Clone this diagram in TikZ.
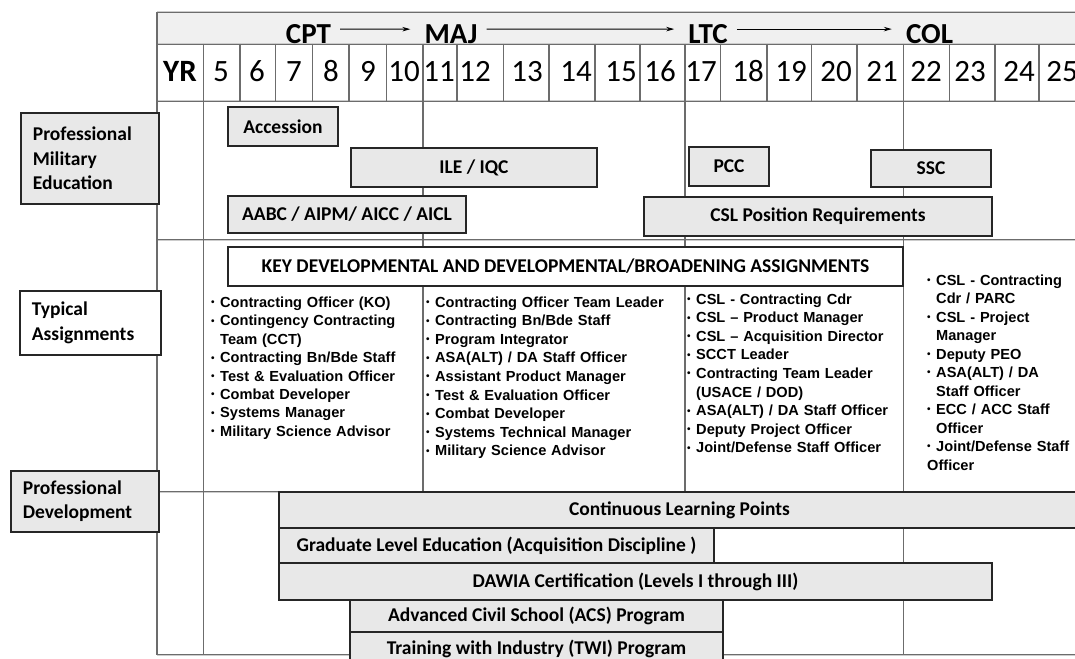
\documentclass[tikz,border=0pt]{standalone}
\usepackage{fontspec}
\setmainfont{Carlito}
\newfontfamily\arialfont{Liberation Sans}
\usetikzlibrary{arrows.meta}
\newcommand{\tabul}{\makebox[9pt][l]{\raisebox{1.6pt}{\fontsize{10}{10}\selectfont\textbullet}}}
\newcommand{\tacont}{\hspace*{9pt}}

\begin{document}
\begin{tikzpicture}[x=1pt,y=-1pt,
  gridline/.style={draw=gray!85!black, line width=1.3pt},
  hrule/.style={draw=gray!85!black, line width=0.7pt, double=gray!40, double distance=1pt},
  course/.style={draw=black!85, line width=1.8pt, fill=gray!18, inner sep=0pt,
    font=\bfseries\fontsize{19.5}{24}\selectfont},
  sidelabel/.style={draw=black!85, line width=1.8pt, fill=gray!18, anchor=north west,
    inner xsep=12pt, inner ysep=0pt, align=left, font=\bfseries\fontsize{19.5}{24.5}\selectfont},
  duties/.style={anchor=base west, inner sep=0pt, text width=#1, align=left,
    font=\arialfont\bfseries\fontsize{14.6}{18.4}\selectfont},
  rankname/.style={anchor=base, inner sep=0pt, font=\bfseries\fontsize{29}{29}\selectfont},
  yearnum/.style={inner sep=0pt, font=\fontsize{31}{31}\selectfont},
  promote/.style={-{Stealth[length=8pt,width=4.5pt]}, line width=0.9pt, shorten <=9pt, shorten >=14pt}]

\useasboundingbox (0,0) rectangle (1075,658);
\fill[white] (0,0) rectangle (1075,658);
\clip (0,0) rectangle (1075,658);

% header rows and frame
\fill[gray!12] (157,12) rectangle (1090,44);
\foreach \y in {12,44,101,240,492,655}
  \draw[hrule] (157,\y) -- (1090,\y);
\draw[gridline] (157,12) -- (157,655);
\foreach \x in {203.5,240,275.5,312.7,349,386.7,423,457,503.5,549,595,640,685,720.5,767,811.5,857,903.7,949.5,995,1039}
  \draw[gridline] (\x,44) -- (\x,101);
\foreach \x in {203.5,423,685,903.7}
  \draw[gridline] (\x,101) -- (\x,655);

% ranks
\node[rankname] (cpt) at (308.5,43.5) {CPT};
\node[rankname] (maj) at (451,43.5) {MAJ};
\node[rankname] (ltc) at (708,43.5) {LTC};
\node[rankname] (col) at (929.5,43.5) {COL};
\draw[promote] ([yshift=5pt]cpt.east) -- ([yshift=5pt]maj.west);
\draw[promote] ([yshift=5pt]maj.east) -- ([yshift=5pt]ltc.west);
\draw[promote] ([yshift=5pt]ltc.east) -- ([yshift=5pt]col.west);

% years
\node[yearnum, font=\bfseries\fontsize{31}{31}\selectfont] (yr) at (180,71.5) {YR};
\foreach \c/\n in {221/5,257/6,294/7,331/8,368/9,404/10,439/11,475/12,527/13,576/14,621/15,
                   660/16,701/17,748/18,791/19,836/20,882/21,926/22,970/23,1019/24,1062/25}
  \node[yearnum] (yr\n) at (\c,71.5) {\n};

% row labels
\node[sidelabel, text width=114, minimum height=91] (pme) at (20,112)
  {Professional\\Military\\Education};
\node[sidelabel, fill=white, text width=117, minimum height=64] (typ) at (19,290)
  {Typical\\Assignments};
\node[sidelabel, text width=124, minimum height=61] (pdev) at (10,470)
  {Professional\\Development};

% professional military education
\node[course, minimum width=110, minimum height=39] (acc) at (283,126.5) {Accession};
\node[course, minimum width=246, minimum height=39] (ile) at (474,167.5) {ILE / IQC};
\node[course, minimum width=238, minimum height=37] (aabc) at (347,214.5) {AABC / AIPM/ AICC / AICL};
\node[course, minimum width=80, minimum height=39] (pcc) at (729,166.5) {PCC};
\node[course, minimum width=120, minimum height=37] (ssc) at (931,168.5) {SSC};
\node[course, minimum width=348, minimum height=39] (cslpos) at (818,216.5) {CSL Position Requirements};

% typical assignments
\node[course, fill=white, minimum width=675, minimum height=39] (key) at (565.5,266.5)
  {KEY DEVELOPMENTAL AND DEVELOPMENTAL/BROADENING ASSIGNMENTS};
\node[duties=200] (cptjobs) at (211,307.5)
  {\tabul Contracting Officer (KO)\\
   \tabul Contingency Contracting\\
   \tacont Team (CCT)\\
   \tabul Contracting Bn/Bde Staff\\
   \tabul Test \& Evaluation Officer\\
   \tabul Combat Developer\\
   \tabul Systems Manager\\
   \tabul Military Science Advisor};
\node[duties=255, font=\arialfont\bfseries\fontsize{14.6}{18.6}\selectfont] (majjobs) at (426,307)
  {\tabul Contracting Officer Team Leader\\
   \tabul Contracting Bn/Bde Staff\\
   \tabul Program Integrator\\
   \tabul ASA(ALT) / DA Staff Officer\\
   \tabul Assistant Product Manager\\
   \tabul Test \& Evaluation Officer\\
   \tabul Combat Developer\\
   \tabul Systems Technical Manager\\
   \tabul Military Science Advisor};
\node[duties=215, font=\arialfont\bfseries\fontsize{14.6}{18.6}\selectfont] (ltcjobs) at (687,304)
  {\tabul CSL - Contracting Cdr\\
   \tabul CSL – Product Manager\\
   \tabul CSL – Acquisition Director\\
   \tabul SCCT Leader\\
   \tabul Contracting Team Leader\\
   \tacont (USACE / DOD)\\
   \tabul ASA(ALT) / DA Staff Officer\\
   \tabul Deputy Project Officer\\
   \tabul Joint/Defense Staff Officer};
\node[duties=160, font=\arialfont\bfseries\fontsize{14.6}{18.5}\selectfont] (coljobs) at (927,285)
  {\tabul CSL - Contracting\\
   \tacont Cdr / PARC\\
   \tabul CSL - Project\\
   \tacont Manager\\
   \tabul Deputy PEO\\
   \tabul ASA(ALT) / DA\\
   \tacont Staff Officer\\
   \tabul ECC / ACC Staff\\
   \tacont Officer\\
   \tabul Joint/Defense Staff\\
   Officer};

% professional development
\node[course, minimum width=801, minimum height=36] (clp) at (679.5,510) {Continuous Learning Points};
\node[course, minimum width=435, minimum height=35] (gle) at (496.5,545.5) {Graduate Level Education (Acquisition Discipline )};
\node[course, minimum width=713, minimum height=37] (dawia) at (635.5,581.5) {DAWIA Certification (Levels I through III)};
\node[course, minimum width=373, minimum height=32] (acs) at (536.5,616) {Advanced Civil School (ACS) Program};
\node[course, minimum width=373, minimum height=34] (twi) at (536.5,649) {Training with Industry (TWI) Program};

\end{tikzpicture}
\end{document}
